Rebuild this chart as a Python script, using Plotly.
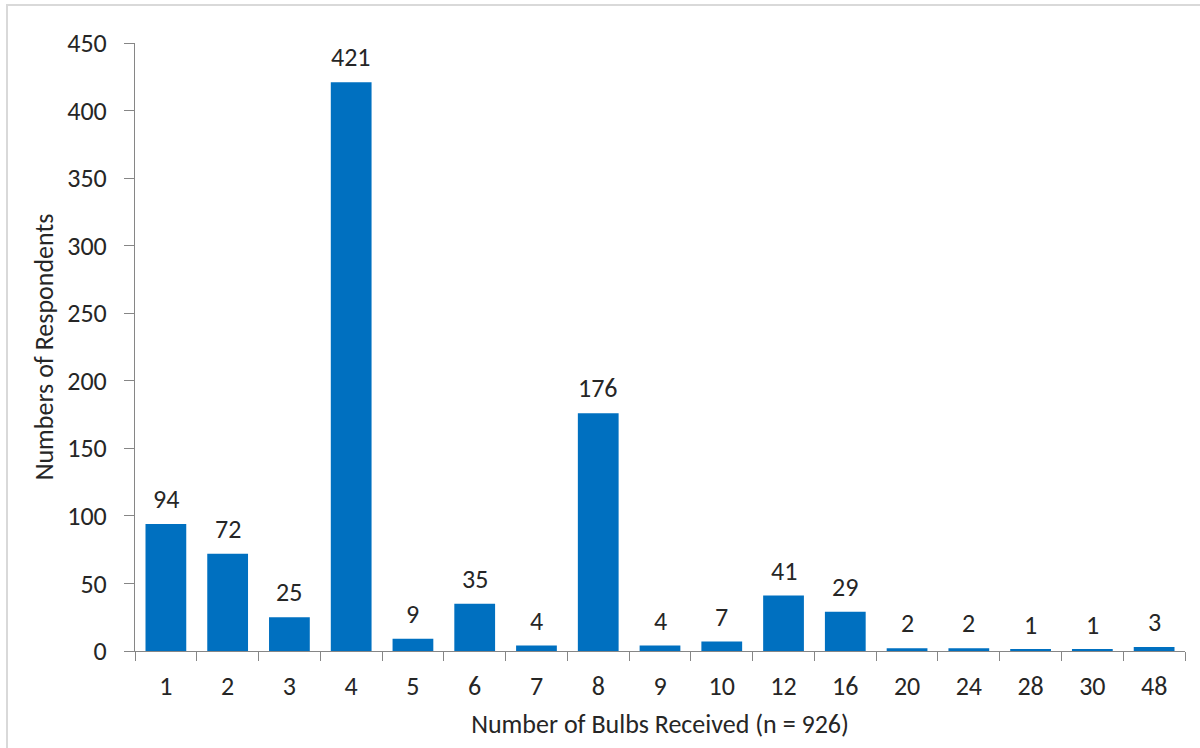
import plotly.graph_objects as go

# Distribution of bulbs received per respondent
bulbs = ["1", "2", "3", "4", "5", "6", "7", "8", "9", "10",
         "12", "16", "20", "24", "28", "30", "48"]
respondents = [94, 72, 25, 421, 9, 35, 4, 176, 4, 7, 41, 29, 2, 2, 1, 1, 3]

y_ticks = list(range(0, 451, 50))

FONT = "Carlito, Calibri, 'Open Sans', sans-serif"
FS = 26
TEXT_COLOR = "#262626"
AXIS_COLOR = "#868686"
BAR_COLOR = "#0070C0"

W, H = 1200, 748
L, R, T, B = 135, 15, 43, 97
pw, ph = W - L - R, H - T - B

fig = go.Figure(
    go.Bar(
        x=bulbs,
        y=respondents,
        marker=dict(color=BAR_COLOR, line=dict(width=0)),
        hoverinfo="x+y",
    )
)

# Value labels sitting above each bar (x given as category index)
for i, val in enumerate(respondents):
    fig.add_annotation(
        x=i, y=val, text=str(val), showarrow=False,
        yanchor="bottom", yshift=7,
        font=dict(family=FONT, size=FS, color=TEXT_COLOR),
    )

# Light grey frame around the whole chart area
def px_x(p):
    return (p - L) / pw

def px_y(p):
    return (H - B - p) / ph

fig.add_shape(
    type="rect", xref="paper", yref="paper",
    x0=px_x(7), x1=px_x(1210), y0=px_y(5), y1=px_y(760),
    line=dict(color="#d9d9d9", width=2), layer="below",
)

fig.update_layout(
    width=W, height=H,
    margin=dict(l=L, r=R, t=T, b=B),
    paper_bgcolor="white", plot_bgcolor="white",
    bargap=0.34,
    showlegend=False,
    font=dict(family=FONT, size=FS, color=TEXT_COLOR),
    xaxis=dict(
        type="category",
        categoryorder="array", categoryarray=bulbs,
        range=[-0.5, len(bulbs) - 0.5],
        showline=True, linecolor=AXIS_COLOR, linewidth=1,
        ticks="outside", tickson="boundaries", ticklen=9,
        tickcolor=AXIS_COLOR, showgrid=False,
        tickangle=0,
        ticklabelstandoff=12,
        tickfont=dict(family=FONT, size=FS, color=TEXT_COLOR),
        title=dict(text="Number of Bulbs Received (n = 926)",
                   font=dict(family=FONT, size=FS, color=TEXT_COLOR),
                   standoff=13),
    ),
    yaxis=dict(
        range=[0, 450],
        tickvals=y_ticks,
        showline=True, linecolor=AXIS_COLOR, linewidth=1,
        ticks="outside", ticklen=10, tickcolor=AXIS_COLOR,
        showgrid=False, zeroline=False,
        ticklabelstandoff=12,
        tickfont=dict(family=FONT, size=FS, color=TEXT_COLOR),
        title=dict(text="Numbers of Respondents",
                   font=dict(family=FONT, size=FS, color=TEXT_COLOR),
                   standoff=6),
    ),
)

fig.write_html("out.html")
